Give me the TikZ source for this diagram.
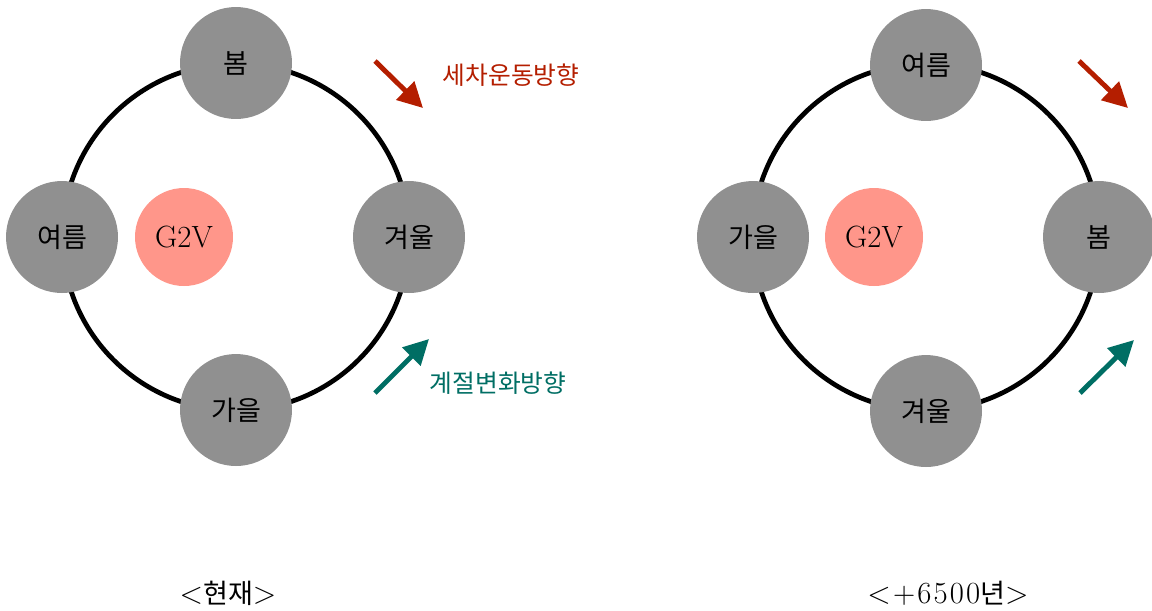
\documentclass[tikz,border=0pt]{standalone}
\usepackage{fontspec}
\newfontfamily\kr{Noto Sans CJK KR}[Scale=0.88]
\newfontfamily\krwide{Noto Sans CJK KR}[Scale=0.88,LetterSpace=7]
\newfontfamily\lmwide{Latin Modern Roman}[LetterSpace=7]
\usetikzlibrary{arrows.meta}
\definecolor{seasongray}{HTML}{909090}
\definecolor{starpink}{HTML}{FF968A}
\definecolor{precred}{HTML}{B41E00}
\definecolor{seasonteal}{HTML}{006E64}
\begin{document}
\begin{tikzpicture}[x=0.02cm,y=-0.02cm,
    season/.style={circle,fill=seasongray,minimum size=2.24cm,inner sep=0pt,font=\fontsize{17.5}{20}\selectfont\kr},
    star/.style={circle,fill=starpink,minimum size=1.96cm,inner sep=0pt,font=\fontsize{17.5}{20}\selectfont},
    arr/.style={line width=2.8pt,-{Triangle[length=0.5cm,width=0.5cm]}}]
  \useasboundingbox (0,0) rectangle (1152,610);
  % now
  \coordinate (c1) at (236,237);
  \draw[line width=2.7pt] (c1) circle (173.5);
  \node[season] (n1) at (236,63) {봄};
  \node[season] (w1) at (62,237) {여름};
  \node[season] (e1) at (409,237) {겨울};
  \node[season] (s1) at (236,410) {가을};
  \node[star] (g1) at (184,237) {G2V};
  \coordinate (pa1) at (375,61);
  \coordinate (pb1) at (423,108);
  \draw[arr,precred] (pa1) -- (pb1);
  \coordinate (sa1) at (375,393);
  \coordinate (sb1) at (429,339);
  \draw[arr,seasonteal] (sa1) -- (sb1);
  \node[precred,font=\fontsize{16}{18}\selectfont\kr] (pl1) at (511,75) {세차운동방향};
  \node[seasonteal,font=\fontsize{16}{18}\selectfont\kr] (sl1) at (498,383) {계절변화방향};
  \node[font=\fontsize{17.5}{20}\selectfont] (t1) at (228,593) {<{\kr 현재}>};
  % +6500 years
  \coordinate (c2) at (926,237);
  \draw[line width=2.7pt] (c2) circle (173.5);
  \node[season] (n2) at (926,65) {여름};
  \node[season] (w2) at (753,237) {가을};
  \node[season] (e2) at (1099,237) {봄};
  \node[season] (s2) at (926,411) {겨울};
  \node[star] (g2) at (874,237) {G2V};
  \coordinate (pa2) at (1079,61);
  \coordinate (pb2) at (1128,108);
  \draw[arr,precred] (pa2) -- (pb2);
  \coordinate (sa2) at (1080,393);
  \coordinate (sb2) at (1134,340);
  \draw[arr,seasonteal] (sa2) -- (sb2);
  \node[font=\fontsize{17.5}{20}\selectfont\lmwide] (t2) at (948,593) {<+6500{\krwide 년}>};
\end{tikzpicture}
\end{document}
